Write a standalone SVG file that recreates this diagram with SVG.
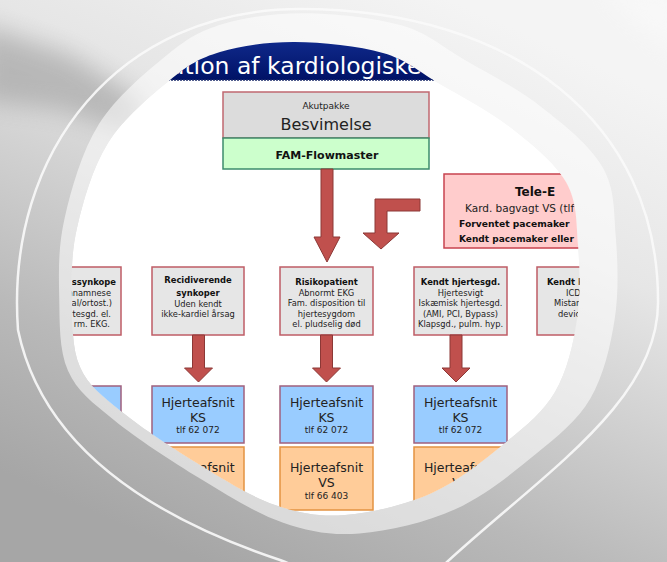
<svg xmlns="http://www.w3.org/2000/svg" xmlns:xlink="http://www.w3.org/1999/xlink" width="667" height="562" viewBox="0 0 667 562">
<defs>
  <linearGradient id="bg" gradientUnits="userSpaceOnUse" x1="450" y1="0" x2="200" y2="560">
    <stop offset="0" stop-color="#f4f4f4"/>
    <stop offset="0.3" stop-color="#e6e6e6"/>
    <stop offset="0.55" stop-color="#cdcdcd"/>
    <stop offset="0.75" stop-color="#b9b9b9"/>
    <stop offset="1" stop-color="#a6a6a6"/>
  </linearGradient>
  <linearGradient id="titlebar" x1="0" y1="0" x2="0" y2="1">
    <stop offset="0" stop-color="#3050b8"/>
    <stop offset="0.5" stop-color="#102a8c"/>
    <stop offset="1" stop-color="#001266"/>
  </linearGradient>
  <filter id="blur" x="-50%" y="-50%" width="200%" height="200%">
    <feGaussianBlur stdDeviation="12"/>
  </filter>
  <path id="blob" d="M295,42 C322.2,42.2 358.8,46 383,53 C407.2,60 418.8,71.7 440,84 C461.2,96.3 489,110.7 510,127 C531,143.3 554.7,162.3 566,182 C577.3,201.7 576.2,222 578,245 C579.8,268 580.8,295.5 577,320 C573.2,344.5 567,371.5 555,392 C543,412.5 525.5,426.2 505,443 C484.5,459.8 458.7,481 432,493 C405.3,505 371.2,513 345,515 C318.8,517 299.2,513.3 275,505 C250.8,496.7 225.5,480.5 200,465 C174.5,449.5 142,428.3 122,412 C102,395.7 88.3,385.7 80,367 C71.7,348.3 72.5,323.2 72,300 C71.5,276.8 71,254.2 77,228 C83,201.8 92.5,167.7 108,143 C123.5,118.3 151.3,95.2 170,80 C188.7,64.8 199.2,58.3 220,52 C240.8,45.7 267.8,41.8 295,42 Z"/>
  <clipPath id="clip"><use xlink:href="#blob"/></clipPath>
</defs>
<style>
  text { font-family: "DejaVu Sans", Verdana, sans-serif; fill: #222; }
  .c { text-anchor: middle; }
  .e { text-anchor: end; }
  .box { stroke-width: 1.5; }
  .grey { fill: #e6e6e6; stroke: #bf5c66; }
  .blue { fill: #99ccff; stroke: #a0607e; }
  .orange { fill: #ffcc99; stroke: #e39342; }
  .pink { fill: #ffcccc; stroke: #c8434f; }
  .arrow { fill: #c0504d; stroke: #8c3836; stroke-width: 1; }
  .s { font-size: 8.3px; }
  .sb { font-size: 8.4px; font-weight: bold; fill: #111; }
  .h { font-size: 12.5px; }
  .t { font-size: 9px; }
</style>

<!-- background -->
<rect x="0" y="0" width="667" height="562" fill="url(#bg)"/>
<polygon points="-20,25 70,55 140,100 135,135 60,110 -20,100" fill="#8a8a8a" opacity="0.45" filter="url(#blur)"/>
<polygon points="600,-10 680,-10 680,60" fill="#ffffff" opacity="0.4" filter="url(#blur)"/>

<!-- outer thin ring -->
<path d="M300,9 C515,9 658,124 658,300 C660,400 545,472 447,562 C400,605 330,580 280,560 C175,525 45,460 18,330 C5,150 120,9 300,9 Z" fill="none" stroke="#fafafa" stroke-width="2.5" opacity="0.9"/>

<!-- light band -->
<use xlink:href="#blob" transform="matrix(1.1 0 0 1.1 -20 -33)" fill="#ffffff" opacity="0.55"/>

<!-- diagram area -->
<g clip-path="url(#clip)">
  <use xlink:href="#blob" fill="#ffffff"/>

  <g id="title">
    <rect x="60" y="0" width="540" height="80" fill="url(#titlebar)"/>
    <line x1="60" y1="80" x2="600" y2="80" stroke="#1a2a6a" stroke-width="1.5" stroke-dasharray="2 1"/>
    <text x="170" y="74" style="font-size:23.5px; fill:#ffffff;">ation af kardiologiske</text>
  </g>

  <g id="besvimelse">
    <rect class="box" x="223" y="92" width="206" height="46" fill="#dcdcdc" stroke="#c06870"/>
    <rect class="box" x="223" y="138" width="206" height="31" fill="#ccffcc" stroke="#3d8c6c"/>
    <text class="c" x="326" y="109" style="font-size:9px">Akutpakke</text>
    <text class="c" x="326" y="130" style="font-size:16px">Besvimelse</text>
    <text class="c" x="327" y="159" style="font-size:11px; font-weight:bold; fill:#111">FAM-Flowmaster</text>
  </g>

  <g id="tele">
    <rect class="box pink" x="444" y="174" width="220" height="74"/>
    <text x="515" y="196" style="font-size:12px; font-weight:bold; fill:#111">Tele-E</text>
    <text x="465" y="212" style="font-size:10.5px">Kard. bagvagt VS (tlf</text>
    <text x="459" y="227" style="font-size:9.2px; font-weight:bold; fill:#111">Forventet pacemaker</text>
    <text x="459" y="242" style="font-size:9px; font-weight:bold; fill:#111">Kendt pacemaker eller</text>
  </g>

  <g id="node-synkope">
    <rect class="box grey" x="29" y="267" width="92" height="68"/>
    <text class="e sb" x="116" y="285">ssynkope</text>
    <text class="e s" x="111" y="296">anamnese</text>
    <text class="e s" x="112" y="306">al/ortost.)</text>
    <text class="e s" x="111" y="316.5">rtesgd. el.</text>
    <text class="e s" x="110" y="327">rm. EKG.</text>
  </g>

  <g id="node-recidiverende">
    <rect class="box grey" x="152" y="267" width="92" height="68"/>
    <text class="c sb" x="198" y="283">Recidiverende</text>
    <text class="c sb" x="198" y="296">synkoper</text>
    <text class="c s" x="198" y="306.5">Uden kendt</text>
    <text class="c s" x="198" y="317">ikke-kardiel årsag</text>
  </g>

  <g id="node-risikopatient">
    <rect class="box grey" x="280" y="267" width="93" height="68"/>
    <text class="c sb" x="326.5" y="285">Risikopatient</text>
    <text class="c s" x="326.5" y="296">Abnormt EKG</text>
    <text class="c s" x="326.5" y="306">Fam. disposition til</text>
    <text class="c s" x="326.5" y="316.5">hjertesygdom</text>
    <text class="c s" x="326.5" y="327">el. pludselig død</text>
  </g>

  <g id="node-kendt-hjertesgd">
    <rect class="box grey" x="414" y="267" width="93" height="68"/>
    <text class="c sb" x="460.5" y="285">Kendt hjertesgd.</text>
    <text class="c s" x="460.5" y="296">Hjertesvigt</text>
    <text class="c s" x="460.5" y="306">Iskæmisk hjertesgd.</text>
    <text class="c s" x="460.5" y="316.5">(AMI, PCI, Bypass)</text>
    <text class="c s" x="460.5" y="327">Klapsgd., pulm. hyp.</text>
  </g>

  <g id="node-kendt-icd">
    <rect class="box grey" x="537" y="267" width="93" height="68"/>
    <text class="sb" x="547" y="285">Kendt I</text>
    <text class="s" x="566" y="296">ICD-</text>
    <text class="s" x="554" y="306">Mistan</text>
    <text class="s" x="558" y="316.5">devic</text>
  </g>

  <g id="ks-1">
    <rect class="box blue" x="29" y="386" width="92" height="57"/>
  </g>
  <g id="vs-1">
    <rect class="box orange" x="29" y="447" width="92" height="63"/>
  </g>

  <g id="ks-2">
    <rect class="box blue" x="152" y="386" width="92" height="57"/>
    <text class="c h" x="198" y="407">Hjerteafsnit</text>
    <text class="c h" x="198" y="422">KS</text>
    <text class="c t" x="198" y="433">tlf 62 072</text>
  </g>
  <g id="vs-2">
    <rect class="box orange" x="152" y="447" width="92" height="63"/>
    <text class="c h" x="198" y="472">Hjerteafsnit</text>
  </g>

  <g id="ks-3">
    <rect class="box blue" x="280" y="386" width="93" height="57"/>
    <text class="c h" x="326.5" y="407">Hjerteafsnit</text>
    <text class="c h" x="326.5" y="422">KS</text>
    <text class="c t" x="326.5" y="433">tlf 62 072</text>
  </g>
  <g id="vs-3">
    <rect class="box orange" x="280" y="447" width="93" height="63"/>
    <text class="c h" x="326.5" y="472">Hjerteafsnit</text>
    <text class="c h" x="326.5" y="487">VS</text>
    <text class="c t" x="326.5" y="499">tlf 66 403</text>
  </g>

  <g id="ks-4">
    <rect class="box blue" x="414" y="386" width="93" height="57"/>
    <text class="c h" x="460.5" y="407">Hjerteafsnit</text>
    <text class="c h" x="460.5" y="422">KS</text>
    <text class="c t" x="460.5" y="433">tlf 62 072</text>
  </g>
  <g id="vs-4">
    <rect class="box orange" x="414" y="447" width="93" height="63"/>
    <text class="c h" x="460.5" y="472">Hjerteafsnit</text>
    <text class="c h" x="460.5" y="487">VS</text>
    <text class="c t" x="460.5" y="499">tlf 66 403</text>
  </g>

  <g id="connectors">
    <polygon class="arrow" points="321,169 333,169 333,237 340,237 327,262 314,237 321,237"/>
    <polygon class="arrow" points="420,199 420,211 387,211 387,233 399,233 381,249 363,233 375,233 375,199"/>
    <polygon class="arrow" points="192.5,335 204.5,335 204.5,368 212.5,368 198.5,382 184.5,368 192.5,368"/>
    <polygon class="arrow" points="320.5,335 332.5,335 332.5,368 340.5,368 326.5,382 312.5,368 320.5,368"/>
    <polygon class="arrow" points="450,335 462,335 462,368 470,368 456,382 442,368 450,368"/>
  </g>
</g>
</svg>
